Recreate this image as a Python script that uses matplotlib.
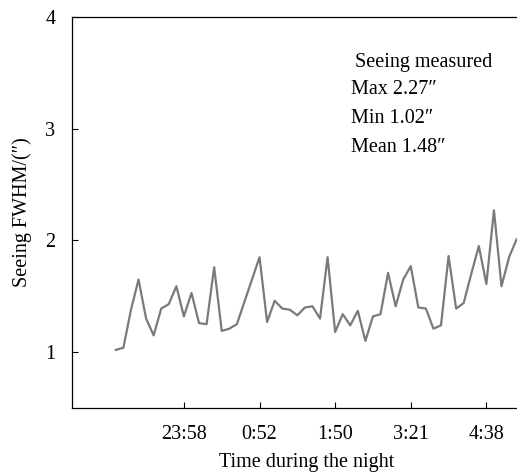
import numpy as np
import matplotlib.pyplot as plt

# seeing samples, one per time step
seeing = [1.02, 1.04, 1.38, 1.65, 1.30, 1.15, 1.39, 1.43, 1.59, 1.32,
          1.53, 1.26, 1.25, 1.76, 1.19, 1.21, 1.25, 1.45, 1.65, 1.85,
          1.27, 1.46, 1.39, 1.38, 1.33, 1.40, 1.41, 1.30, 1.85, 1.18,
          1.34, 1.24, 1.37, 1.10, 1.32, 1.34, 1.71, 1.41, 1.65, 1.77,
          1.40, 1.39, 1.21, 1.24, 1.86, 1.39, 1.44, 1.70, 1.95, 1.61,
          2.27, 1.59, 1.85, 2.01]
tick_pos = [9, 19, 29, 39, 49]
tick_labels = ['23:58', '0:52', '1:50', '3:21', '4:38']
notes = ['Max 2.27\u2033', 'Min 1.02\u2033', 'Mean 1.48\u2033']

plt.rcParams['font.family'] = ['Liberation Serif', 'DejaVu Serif']
fs = 14.5

fig = plt.figure(figsize=(5.17, 4.73), dpi=100)
ax = fig.add_axes([72 / 517, 65 / 473, 445 / 517, 391 / 473])

x = np.arange(len(seeing))
ax.plot(x, seeing, color='#7a7a7a', lw=1.6)

ax.set_xlim(-5.8, 53.05)
ax.set_ylim(0.5, 4)
ax.set_xticks(tick_pos)
ax.set_xticklabels(tick_labels)
ax.set_yticks([1, 2, 3, 4])
ax.tick_params(direction='in', length=4, width=0.8, labelsize=fs)
ax.tick_params(axis='x', pad=12)
ax.tick_params(axis='y', pad=12)
ax.spines['right'].set_visible(False)
for s in ['left', 'bottom', 'top']:
    ax.spines[s].set_linewidth(0.9)

ax.set_xlabel('Time during the night', fontsize=fs)
ax.xaxis.set_label_coords((307 - 72) / 445, -0.115)
ax.set_ylabel('Seeing FWHM/(\u2033)', fontsize=fs)
ax.yaxis.set_label_coords(-0.089, 0.5)

ax.text((355 - 72) / 445, (408 - 62) / 391, 'Seeing measured',
        transform=ax.transAxes, va='center', fontsize=fs)
for i, t in enumerate(notes):
    ax.text((351 - 72) / 445, (408 - 90 - 28.5 * i) / 391, t,
            transform=ax.transAxes, va='center', fontsize=fs)

fig.savefig('out.png', dpi=100)
